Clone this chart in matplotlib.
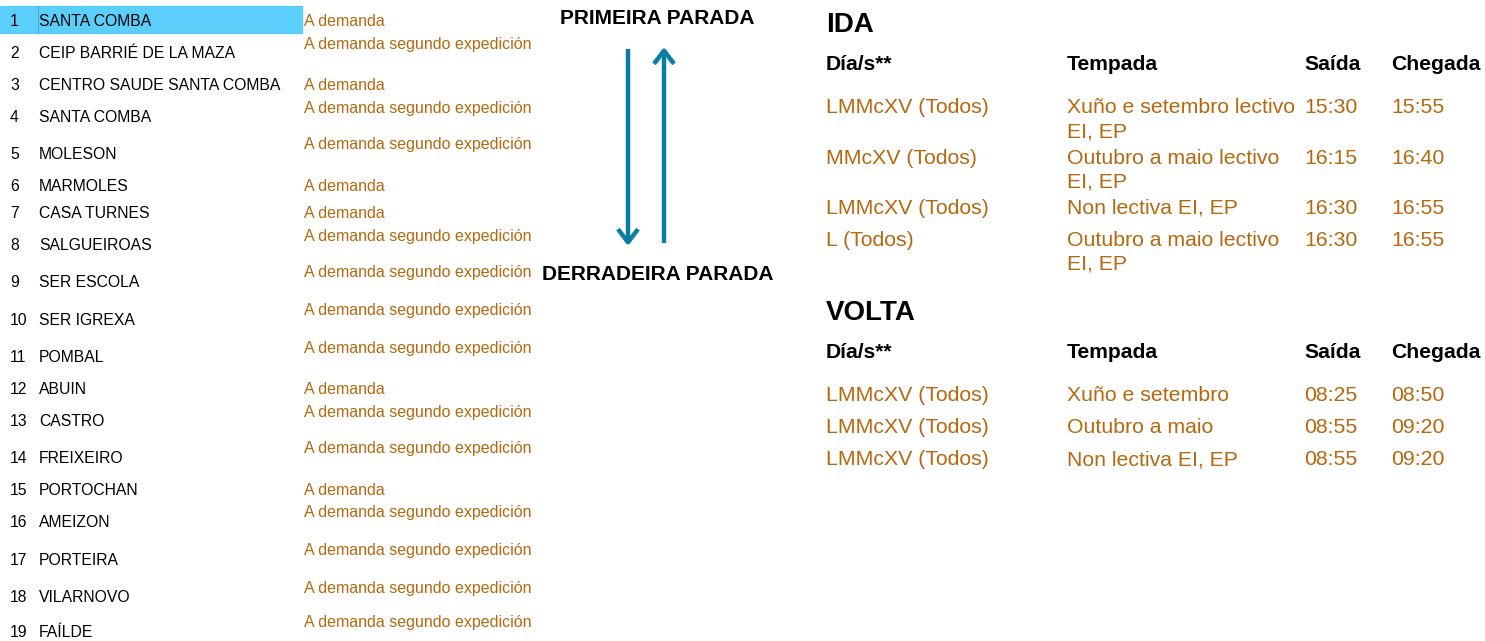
import matplotlib.pyplot as plt

plt.rcParams['font.family'] = ['Liberation Sans', 'DejaVu Sans']

# stops of the line and the note next to each one
stop_names = ['SANTA COMBA', 'CEIP BARRIÉ DE LA MAZA', 'CENTRO SAUDE SANTA COMBA', 'SANTA COMBA',
              'MOLESON', 'MARMOLES', 'CASA TURNES', 'SALGUEIROAS', 'SER ESCOLA', 'SER IGREXA',
              'POMBAL', 'ABUIN', 'CASTRO', 'FREIXEIRO', 'PORTOCHAN', 'AMEIZON', 'PORTEIRA',
              'VILARNOVO', 'FAÍLDE']
stop_notes = ['A demanda', 'A demanda segundo expedición', 'A demanda', 'A demanda segundo expedición',
              'A demanda segundo expedición', 'A demanda', 'A demanda', 'A demanda segundo expedición',
              'A demanda segundo expedición', 'A demanda segundo expedición', 'A demanda segundo expedición',
              'A demanda', 'A demanda segundo expedición', 'A demanda segundo expedición', 'A demanda',
              'A demanda segundo expedición', 'A demanda segundo expedición', 'A demanda segundo expedición',
              'A demanda segundo expedición']

header = ['Día/s**', 'Tempada', 'Saída', 'Chegada']

ida_dias = ['LMMcXV (Todos)', 'MMcXV (Todos)', 'LMMcXV (Todos)', 'L (Todos)']
ida_tempada = ['Xuño e setembro lectivo\nEI, EP', 'Outubro a maio lectivo\nEI, EP',
               'Non lectiva EI, EP', 'Outubro a maio lectivo\nEI, EP']
ida_saida = ['15:30', '16:15', '16:30', '16:30']
ida_chegada = ['15:55', '16:40', '16:55', '16:55']

volta_dias = ['LMMcXV (Todos)', 'LMMcXV (Todos)', 'LMMcXV (Todos)']
volta_tempada = ['Xuño e setembro', 'Outubro a maio', 'Non lectiva EI, EP']
volta_saida = ['08:25', '08:55', '08:55']
volta_chegada = ['08:50', '09:20', '09:20']

# layout (pixels from top)
row_y = [20, 52, 84, 116, 153, 185, 212, 244, 281, 319, 356, 388, 420, 457, 489, 521, 559, 596, 631]
col_x = [826, 1067, 1304, 1391]
ida_y = [106, 157, 207, 239]
volta_y = [394, 426, 458]

orange = '#B5680F'
blue = '#0A7CA5'

fig = plt.figure(figsize=(14.85, 6.41), dpi=100)
ax = fig.add_axes([0, 0, 1, 1])
ax.set_xlim(0, 1485)
ax.set_ylim(641, 0)
ax.axis('off')

# highlighted first stop
ax.add_patch(plt.Rectangle((0, 6), 302, 27, color='#5BCEFA', zorder=0))
ax.plot([38, 38], [6, 33], color='#3DB0E0', lw=0.8, zorder=1)

for i, (name, note) in enumerate(zip(stop_names, stop_notes)):
    y = row_y[i] + 1.5
    ax.text(10, y, str(i + 1), fontsize=11.3, va='center', color='black')
    ax.text(39, y, name, fontsize=11.3, va='center', color='black')
    ny = y if note == 'A demanda' else y - 9.5
    ax.text(304, ny, note, fontsize=11.5, va='center', color=orange)

ax.text(657, 19, 'PRIMEIRA PARADA', fontsize=15, fontweight='bold', ha='center', va='center')
ax.text(658, 274, 'DERRADEIRA PARADA', fontsize=15, fontweight='bold', ha='center', va='center')

arrow = dict(arrowstyle='->,head_length=0.95,head_width=0.72', color=blue, lw=3.2,
             shrinkA=0, shrinkB=0, capstyle='butt')
ax.annotate('', xy=(628, 246), xytext=(628, 49), arrowprops=arrow)
ax.annotate('', xy=(664, 47), xytext=(664, 243), arrowprops=arrow)


def table(title, title_y, head_y, rows_y, cols):
    ax.text(col_x[0], title_y, title, fontsize=20, fontweight='bold', va='center')
    for x, h in zip(col_x, header):
        ax.text(x, head_y, h, fontsize=15.2, fontweight='bold', va='center')
    for r, y in enumerate(rows_y):
        for x, col in zip(col_x, cols):
            for k, line in enumerate(col[r].split('\n')):
                ax.text(x, y + 1.5 + 24 * k, line, fontsize=15.3, va='center', color=orange)


table('IDA', 25, 64, ida_y, [ida_dias, ida_tempada, ida_saida, ida_chegada])
table('VOLTA', 313, 352, volta_y, [volta_dias, volta_tempada, volta_saida, volta_chegada])

fig.savefig('out.png', dpi=100)
